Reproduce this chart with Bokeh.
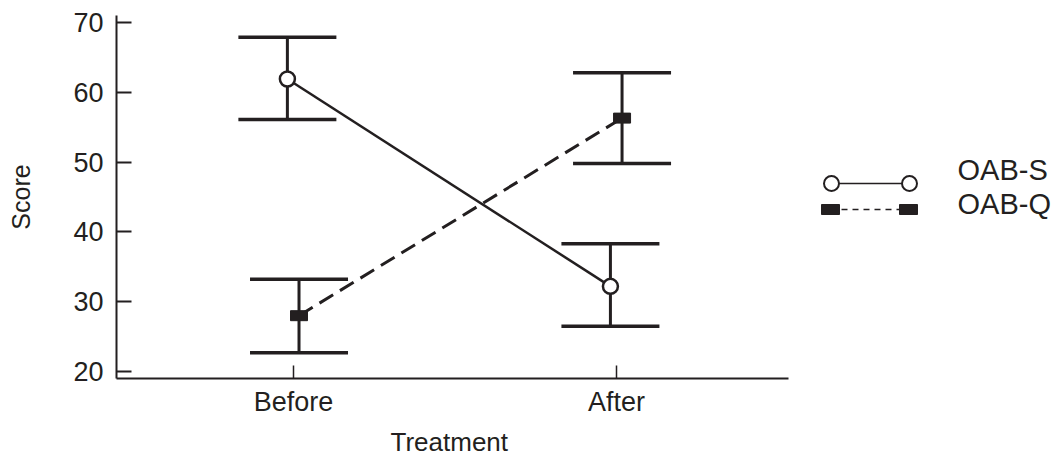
from bokeh.plotting import figure
from bokeh.models import Whisker, TeeHead, ColumnDataSource, Label, FixedTicker, Range1d, Title
from bokeh.embed import file_html
from bokeh.resources import INLINE

# ---- data ----
categories = ["Before", "After"]
s_mean = [61.9, 32.2]
s_upper = [67.9, 38.3]
s_lower = [56.1, 26.5]
q_mean = [28.0, 56.3]
q_upper = [33.2, 62.8]
q_lower = [22.7, 49.8]
y_ticks = [20, 30, 40, 50, 60, 70]
series_names = ["OAB-S", "OAB-Q"]
x_title = "Treatment"
y_title = "Score"

INK = "#231f20"
FONT = "Liberation Sans"

x_pos = list(range(len(categories)))
s_x = [v - 0.019 for v in x_pos]
q_x = [v + 0.017 for v in x_pos]

p = figure(width=1057, height=465,
           x_range=Range1d(-0.548, 2.365), y_range=Range1d(19.0, 71.0),
           output_backend="svg", toolbar_location=None,
           min_border_left=116, min_border_top=15, min_border_bottom=87, min_border_right=0)
p.outline_line_color = None
p.grid.visible = False
p.background_fill_color = "white"
p.border_fill_color = "white"

for ax in (p.xaxis[0], p.yaxis[0]):
    ax.axis_line_color = INK
    ax.axis_line_width = 2
    ax.major_tick_line_color = INK
    ax.minor_tick_line_color = None
    ax.major_tick_out = 0
    ax.major_label_text_font = FONT
    ax.major_label_text_font_size = "27px"
    ax.major_label_text_color = INK
    ax.axis_label_text_font = FONT
    ax.axis_label_text_font_size = "25px"
    ax.axis_label_text_font_style = "normal"
    ax.axis_label_text_color = INK

p.xaxis.ticker = FixedTicker(ticks=x_pos)
p.xaxis.bounds = (-0.548, 1.533)
p.xaxis.major_label_overrides = {i: c for i, c in enumerate(categories)}
p.xaxis.major_tick_in = 13
p.xaxis.major_tick_line_width = 1.5
p.xaxis.major_label_standoff = 8

p.yaxis.ticker = FixedTicker(ticks=y_ticks)
p.yaxis.major_tick_in = 15
p.yaxis.major_tick_line_width = 2
p.yaxis.major_label_standoff = 13
p.yaxis.axis_label = y_title
p.yaxis.axis_label_standoff = 35

# x-axis title, placed under the bounded axis
p.add_layout(Title(text=x_title, align="left", offset=274, standoff=10,
                   text_font=FONT, text_font_size="26px", text_font_style="normal",
                   text_color=INK), "below")

# connecting lines
p.line(s_x, s_mean, line_color=INK, line_width=2.5)
p.line(q_x, q_mean, line_color=INK, line_width=3, line_dash="16 8")

# error bars
for xs, up, lo in ((s_x, s_upper, s_lower), (q_x, q_upper, q_lower)):
    src = ColumnDataSource(dict(x=xs, upper=up, lower=lo))
    w = Whisker(base="x", upper="upper", lower="lower", source=src, dimension="height",
                line_color=INK, line_width=3,
                upper_head=TeeHead(size=98, line_color=INK, line_width=3.5),
                lower_head=TeeHead(size=98, line_color=INK, line_width=3.5))
    p.add_layout(w)

# markers
p.scatter(s_x, s_mean, marker="circle", size=15, fill_color="white",
          line_color=INK, line_width=2.5)
p.rect(q_x, q_mean, width=17, height=10, width_units="screen", height_units="screen",
       fill_color=INK, line_color=INK)

# ---- legend (drawn in a page-pixel range) ----
p.extra_x_ranges["px"] = Range1d(116, 1057)
p.extra_y_ranges["py"] = Range1d(378, 15)
kw = dict(x_range_name="px", y_range_name="py")
p.line([831, 909], [183, 183], line_color=INK, line_width=1.5, **kw)
p.scatter([831, 909], [183, 183], marker="circle", size=15, fill_color="white",
          line_color=INK, line_width=2, **kw)
p.line([830, 908], [209, 209], line_color=INK, line_width=1.5, line_dash="6 5", **kw)
p.rect([830, 908], [209, 209], width=18, height=10, width_units="screen",
       height_units="screen", fill_color=INK, line_color=INK, **kw)
for name, yy in zip(series_names, [169, 203]):
    p.add_layout(Label(x=957, y=yy, text=name, text_font=FONT, text_font_size="29px",
                       text_color=INK, text_baseline="middle", text_align="left", **kw))

open("out.html", "w").write(file_html(p, INLINE))
